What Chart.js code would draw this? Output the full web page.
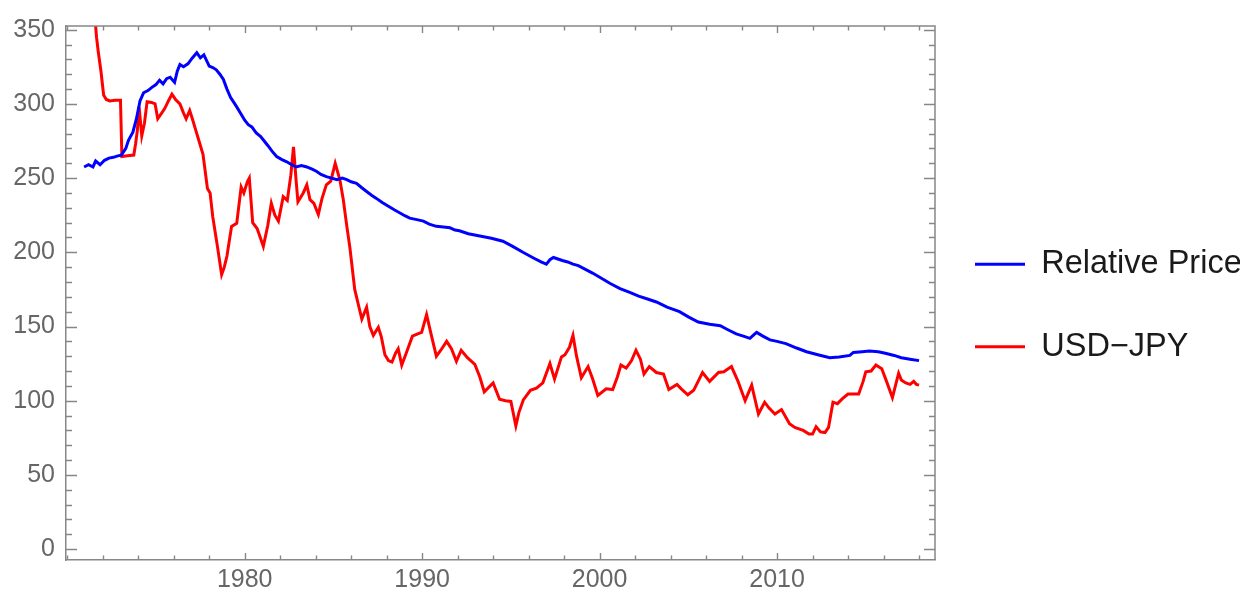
<!DOCTYPE html>
<html>
<head>
<meta charset="utf-8">
<script src="https://cdn.jsdelivr.net/npm/chart.js@4.4.0/dist/chart.umd.min.js"></script>
<style>
  html, body { margin: 0; padding: 0; background: #ffffff; }
  #wrap { width: 1250px; height: 590px; }
</style>
</head>
<body>
<div id="wrap"><canvas id="chart" width="1250" height="590"></canvas></div>
<script>
// Series names shown in the legend
const seriesNames = ['Relative Price', 'USD\u2212JPY'];

// Relative price level (decimal year, index value)
const priceYears = [
  1970.95, 1971.2, 1971.45, 1971.6, 1971.85, 1972.1, 1972.35, 1972.6, 1972.85, 1973.05,
  1973.3, 1973.45, 1973.7, 1973.9, 1974.1, 1974.3, 1974.55, 1974.75, 1975.0, 1975.2,
  1975.4, 1975.6, 1975.8, 1976.05, 1976.2, 1976.35, 1976.55, 1976.8, 1977.05, 1977.3,
  1977.5, 1977.7, 1978.0, 1978.2, 1978.4, 1978.6, 1978.8, 1979.0, 1979.2, 1979.55,
  1979.8, 1980.0, 1980.2, 1980.4, 1980.65, 1980.9, 1981.1, 1981.3, 1981.55, 1981.8,
  1982.1, 1982.37, 1982.65, 1982.9, 1983.2, 1983.5, 1983.8, 1984.06, 1984.3, 1984.6,
  1984.9, 1985.2, 1985.5, 1985.75, 1986.0, 1986.3, 1986.6, 1986.87, 1987.15, 1987.4,
  1987.75, 1988.1, 1988.45, 1988.75, 1989.05, 1989.3, 1989.7, 1990.07, 1990.4, 1990.8,
  1991.2, 1991.57, 1991.85, 1992.1, 1992.6, 1993.25, 1993.9, 1994.55, 1995.1, 1995.68,
  1996.3, 1996.7, 1997.0, 1997.2, 1997.4, 1997.9, 1998.2, 1998.5, 1998.8, 1999.2,
  1999.6, 2000.03, 2000.6, 2001.15, 2001.7, 2002.2, 2002.7, 2003.2, 2003.8, 2004.5,
  2005.0, 2005.56, 2006.2, 2006.8, 2007.2, 2007.7, 2008.1, 2008.47, 2008.7, 2008.85,
  2009.2, 2009.6, 2010.0, 2010.5, 2011.1, 2011.66, 2012.3, 2012.97, 2013.5, 2014.1,
  2014.3, 2014.8, 2015.2, 2015.7, 2016.1, 2016.6, 2017.0, 2017.5, 2018.0
];
const priceValues = [
  257.5, 259, 257.5, 261.5, 259, 262, 263.5, 264, 265, 265.5,
  270, 275.5, 281, 290, 302, 307.5, 309, 311, 313, 316,
  313.5, 317, 318, 314.5, 322, 326.5, 325, 327, 331, 334.5,
  331, 333, 325.5, 324.5, 323, 320, 316.5, 310, 304.5, 298,
  293, 289, 286, 284.5, 280.5, 278, 275, 272, 268, 264.5,
  262.5, 261, 259, 257.5, 258.5, 257.5, 256, 254.5, 252.5, 251,
  250, 249, 250, 249, 247.5, 246.5, 243.5, 241, 238.5, 236.5,
  233.5, 231, 228.5, 226.5, 224.5, 223, 222, 221, 219, 217.5,
  217, 216.5, 215, 214.5, 212.5, 211, 209.5, 207.5, 204, 200,
  196, 193.5, 192, 195, 196.5, 194.5, 193.5, 192, 191, 188.5,
  186, 183, 179, 175.5, 173, 170.5, 168.5, 166.5, 163, 160,
  156.5, 153, 151.5, 150.5, 148, 145, 143.5, 142, 144.5, 146,
  143.5, 141, 140, 138.5, 135.5, 133, 131, 129, 129.5, 130.5,
  132.5, 133, 133.5, 133, 132, 130.5, 129, 128, 127
];

// Yen per US dollar (decimal year, rate)
const jpyYears = [
  1971.0, 1971.55, 1971.65, 1971.75, 1971.9, 1972.05, 1972.2, 1972.4, 1972.7, 1973.0,
  1973.08, 1973.4, 1973.75, 1973.85, 1973.95, 1974.05, 1974.2, 1974.35, 1974.5, 1974.75,
  1974.95, 1975.1, 1975.3, 1975.5, 1975.7, 1975.9, 1976.1, 1976.35, 1976.55, 1976.7,
  1976.9, 1977.05, 1977.25, 1977.45, 1977.65, 1977.9, 1978.05, 1978.2, 1978.45, 1978.7,
  1978.85, 1979.0, 1979.26, 1979.55, 1979.8, 1979.95, 1980.15, 1980.26, 1980.45, 1980.7,
  1981.05, 1981.3, 1981.5, 1981.7, 1981.9, 1982.17, 1982.4, 1982.6, 1982.75, 1982.9,
  1983.0, 1983.3, 1983.5, 1983.68, 1983.9, 1984.15, 1984.35, 1984.6, 1984.85, 1985.1,
  1985.36, 1985.55, 1985.75, 1985.93, 1986.2, 1986.4, 1986.6, 1986.87, 1987.05, 1987.25,
  1987.53, 1987.7, 1987.9, 1988.1, 1988.3, 1988.5, 1988.65, 1988.85, 1989.1, 1989.45,
  1989.75, 1989.97, 1990.25, 1990.5, 1990.8, 1991.05, 1991.38, 1991.65, 1991.93, 1992.2,
  1992.55, 1992.97, 1993.25, 1993.5, 1994.0, 1994.36, 1994.7, 1995.0, 1995.28, 1995.45,
  1995.7, 1996.1, 1996.44, 1996.8, 1997.2, 1997.46, 1997.85, 1998.05, 1998.3, 1998.5,
  1998.7, 1998.97, 1999.35, 1999.6, 1999.9, 2000.37, 2000.74, 2001.0, 2001.2, 2001.5,
  2001.8, 2002.05, 2002.3, 2002.5, 2002.8, 2003.2, 2003.6, 2003.9, 2004.36, 2004.6,
  2004.97, 2005.3, 2005.8, 2006.2, 2006.7, 2007.0, 2007.43, 2007.8, 2008.2, 2008.57,
  2008.95, 2009.3, 2009.55, 2009.88, 2010.25, 2010.7, 2011.0, 2011.47, 2011.8, 2012.0,
  2012.2, 2012.45, 2012.7, 2012.9, 2013.15, 2013.4, 2013.7, 2014.0, 2014.6, 2014.85,
  2015.0, 2015.3, 2015.57, 2015.9, 2016.2, 2016.5, 2016.85, 2017.0, 2017.25, 2017.5,
  2017.7, 2017.85, 2018.0
];
const jpyValues = [
  360, 360, 345, 335, 322, 306, 303, 302, 302.5, 302.5,
  264.5, 265, 265.5, 273, 282, 298, 278.5, 287, 301.5, 301,
  300, 290, 293.5, 297, 302, 306.5, 303, 300, 294, 290,
  295.5, 290, 282, 274, 266, 243, 240, 224, 205, 185,
  190, 197.5, 217.5, 219.5, 244, 240, 247.5, 250, 220, 216,
  204, 218, 233, 225, 221, 237.5, 235, 252, 271, 248,
  234, 240, 245.5, 235.5, 233, 225.5, 236, 245.5, 248, 260,
  249, 236, 218, 203, 175, 165, 155, 163, 150, 144,
  149.5, 143, 131, 127, 126, 132, 135, 124, 132, 143.5,
  145, 146, 158, 145, 130, 134, 140, 135, 126.5, 134,
  129, 124.5, 116, 106, 112, 101, 100, 99.5, 83, 92,
  100.5, 107, 108.5, 112, 125, 114.5, 129.5, 131, 136, 144,
  130, 115.5, 123, 115, 103.5, 108, 107.5, 116, 124, 122,
  127, 134, 128, 118, 123, 119, 118, 107.5, 111, 108,
  104, 107, 119, 113, 119, 119.5, 123, 113, 100, 110.5,
  91, 99, 95, 91, 94, 84.5, 82, 80, 77.5, 77.5,
  82.5, 79, 78.5, 82, 99, 98, 101.5, 104.5, 104.5, 113,
  119.5, 120, 124, 121.5, 112, 102, 118.5, 114, 112, 111,
  113, 111, 110.5
];

// Axis ticks: every position gets a frame tick, the listed ones get a label
const yearTickValues = [1970, 1972, 1974, 1976, 1978, 1980, 1982, 1984, 1986, 1988, 1990,
  1992, 1994, 1996, 1998, 2000, 2002, 2004, 2006, 2008, 2010, 2012, 2014, 2016, 2018];
const yearLabels = [1980, 1990, 2000, 2010];
const valueTickValues = [0, 10, 20, 30, 40, 50, 60, 70, 80, 90, 100, 110, 120, 130, 140, 150,
  160, 170, 180, 190, 200, 210, 220, 230, 240, 250, 260, 270, 280, 290, 300, 310, 320, 330, 340, 350];
const valueLabels = [0, 50, 100, 150, 200, 250, 300, 350];

const FRAME = '#878787';
const LABEL = '#666666';
const FONT = '"Liberation Sans", Arial, sans-serif';

const toPoints = (xs, ys) => xs.map((x, i) => ({ x, y: ys[i] }));

// Mathematica-style frame: ticks point inward on all four sides
const frameTicks = {
  id: 'frameTicks',
  afterDatasetsDraw(chart) {
    const { ctx, chartArea: a, scales: { x, y } } = chart;
    ctx.save();
    ctx.strokeStyle = FRAME;
    ctx.lineWidth = 1.5;
    ctx.beginPath();
    ctx.moveTo(a.left, a.top); ctx.lineTo(a.right, a.top); ctx.lineTo(a.right, a.bottom);
    ctx.stroke();
    ctx.lineWidth = 1.4;
    ctx.beginPath();
    x.ticks.forEach(t => {
      const px = Math.round(x.getPixelForValue(t.value)) + 0.5;
      const len = yearLabels.includes(t.value) ? 7 : 4.5;
      ctx.moveTo(px, a.bottom); ctx.lineTo(px, a.bottom - len);
      ctx.moveTo(px, a.top); ctx.lineTo(px, a.top + len);
    });
    y.ticks.forEach(t => {
      const py = Math.round(y.getPixelForValue(t.value)) + 0.5;
      const len = valueLabels.includes(t.value) ? 11 : 6;
      ctx.moveTo(a.left, py); ctx.lineTo(a.left + len, py);
      ctx.moveTo(a.right, py); ctx.lineTo(a.right - len, py);
    });
    ctx.stroke();
    ctx.restore();
  }
};

// Fixed legend column to the right of the plot
const legendPlacement = {
  id: 'legendPlacement',
  afterInit(chart) {
    const legend = chart.legend;
    const fit = legend.fit;
    legend.fit = function () { fit.call(this); this.width = 315; };
  },
  afterLayout(chart) {
    chart.legend.left -= 10;
    chart.legend.right -= 10;
  }
};

new Chart(document.getElementById('chart'), {
  type: 'line',
  data: {
    datasets: [
      {
        label: seriesNames[0],
        data: toPoints(priceYears, priceValues),
        borderColor: '#0000ff',
        backgroundColor: '#0000ff',
        borderWidth: 3,
        pointRadius: 0,
        tension: 0,
        clip: 0
      },
      {
        label: seriesNames[1],
        data: toPoints(jpyYears, jpyValues),
        borderColor: '#ff0000',
        backgroundColor: '#ff0000',
        borderWidth: 3,
        pointRadius: 0,
        tension: 0,
        clip: 0
      }
    ]
  },
  options: {
    responsive: false,
    animation: false,
    devicePixelRatio: 1,
    layout: { padding: { top: 21, left: 0, right: 0, bottom: 0 } },
    plugins: {
      tooltip: { enabled: false },
      legend: {
        position: 'right',
        labels: {
          boxWidth: 50,
          boxHeight: 3,
          padding: 50,
          color: '#1a1a1a',
          font: { family: FONT, size: 32.5 },
          generateLabels(chart) {
            return Chart.defaults.plugins.legend.labels.generateLabels(chart)
              .map(item => Object.assign(item, { lineWidth: 0, fillStyle: item.strokeStyle }));
          }
        }
      }
    },
    scales: {
      x: {
        type: 'linear',
        min: 1969.93,
        max: 2018.9,
        afterBuildTicks: s => { s.ticks = yearTickValues.map(v => ({ value: v })); },
        afterFit: s => { s.height = 30; },
        grid: { display: false, drawTicks: false },
        border: { display: true, color: FRAME, width: 1.5 },
        ticks: {
          autoSkip: false,
          maxRotation: 0,
          padding: 5,
          color: LABEL,
          font: { family: FONT, size: 25 },
          callback: v => (yearLabels.includes(v) ? String(v) : '')
        }
      },
      y: {
        type: 'linear',
        min: -7.35,
        max: 352.5,
        afterBuildTicks: s => { s.ticks = valueTickValues.map(v => ({ value: v })); },
        afterFit: s => { s.width = 66; },
        grid: { display: false, drawTicks: false },
        border: { display: true, color: FRAME, width: 1.5 },
        ticks: {
          autoSkip: false,
          padding: 11,
          color: LABEL,
          font: { family: FONT, size: 25 },
          callback: v => (valueLabels.includes(v) ? String(v) : '')
        }
      }
    }
  },
  plugins: [frameTicks, legendPlacement]
});
</script>
</body>
</html>
